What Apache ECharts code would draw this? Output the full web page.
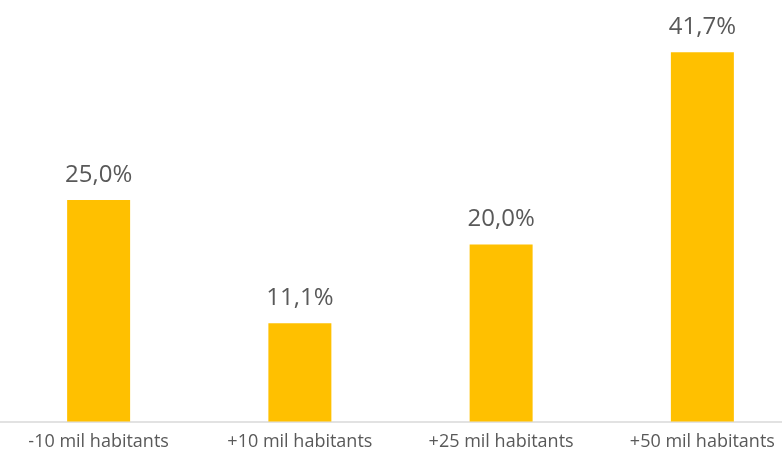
<!DOCTYPE html>
<html>
<head>
<meta charset="utf-8">
<script src="https://cdn.jsdelivr.net/npm/echarts@6/dist/echarts.min.js"></script>
<style>html,body{margin:0;padding:0;background:#fff}#c{width:782px;height:457px}</style>
</head>
<body>
<div id="c"></div>
<script>
const categories = ['-10 mil habitants', '+10 mil habitants', '+25 mil habitants', '+50 mil habitants'];
const values = [25.0, 11.1, 20.0, 41.7];

const chart = echarts.init(document.getElementById('c'));
chart.setOption({
  animation: false,
  backgroundColor: '#ffffff',
  grid: { left: -2, width: 805, top: 23, bottom: 35.5, containLabel: false, outerBoundsMode: 'none' },
  xAxis: {
    type: 'category',
    data: categories,
    axisLine: { lineStyle: { color: '#D9D9D9', width: 1.5 } },
    axisTick: { show: false },
    axisLabel: { color: '#595959', fontSize: 18, fontFamily: 'Open Sans', margin: 11 }
  },
  yAxis: {
    type: 'value',
    min: 0,
    max: 45,
    show: false,
    splitLine: { show: false }
  },
  series: [{
    type: 'bar',
    data: values,
    barWidth: '31.3%',
    itemStyle: { color: '#FFC000' },
    label: {
      show: true,
      position: 'top',
      distance: 13,
      color: '#595959',
      fontSize: 24,
      fontFamily: 'Open Sans',
      formatter: p => p.value.toFixed(1).replace('.', ',') + '%'
    }
  }]
});
</script>
</body>
</html>
